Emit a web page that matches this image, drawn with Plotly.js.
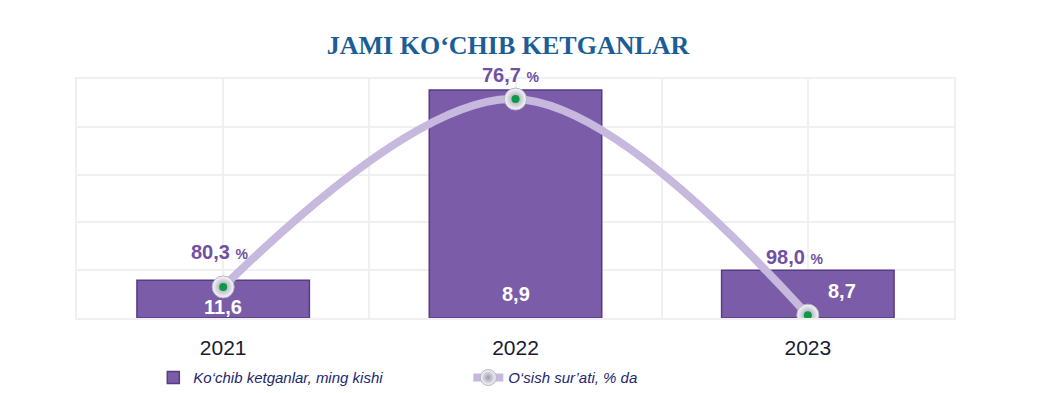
<!DOCTYPE html>
<html><head><meta charset="utf-8">
<script src="https://cdn.plot.ly/plotly-3.0.1.min.js"></script>
<style>html,body{margin:0;padding:0;background:#fff}</style>
</head><body><div id="chart" style="width:1039px;height:393px"></div>
<script>
// ---- data ----
const years = [2021, 2022, 2023];
const emigrants = [11.6, 8.9, 8.7];      // Ko‘chib ketganlar, ming kishi (printed values)
const growthRate = [80.3, 76.7, 98.0];   // O‘sish sur’ati, % da (printed values)
// bar heights and line levels as drawn in the picture (gridline units, unlabeled axis)
const barDrawn = [0.79, 4.77, 1.0];
const lineDrawn = [0.65, 4.58, 0.06];
const chartTitle = 'JAMI KO‘CHIB KETGANLAR';
const seriesNames = ['Ko‘chib ketganlar, ming kishi', 'O‘sish sur’ati, % da'];

// ---- styling ----
const fmt = v => v.toFixed(1).replace('.', ',');
const pctShift = [[-4, 35], [-5, 24], [-13, 58]];
const valShift = [[0, 11], [0, 24], [34, 27]];

const tickvals = [], ticktext = [];
years.forEach((y, i) => {
  tickvals.push(y - 0.5); ticktext.push('');
  tickvals.push(y); ticktext.push(String(y));
});
tickvals.push(years[years.length - 1] + 0.5); ticktext.push('');

const traces = [
  {
    type: 'bar', x: years, y: barDrawn, name: seriesNames[0], width: 0.59,
    marker: {color: '#7b5ca8', line: {color: '#563b86', width: 1.5}},
    hoverinfo: 'skip'
  },
  {
    type: 'scatter', mode: 'lines+markers', x: years, y: lineDrawn, name: seriesNames[1],
    line: {color: '#c6b9dd', width: 8, shape: 'spline', smoothing: 1},
    marker: {size: 22, color: '#f8f8fc', gradient: {type: 'radial', color: '#9a9aab'},
             line: {color: '#b4b4c4', width: 1}},
    hoverinfo: 'skip'
  },
  {
    type: 'scatter', mode: 'markers', x: years, y: lineDrawn, showlegend: false,
    marker: {size: 8, color: '#0c9a48'}, hoverinfo: 'skip'
  }
];

const annotations = [];
years.forEach((y, i) => {
  annotations.push({
    x: y, y: lineDrawn[i], xref: 'x', yref: 'y', showarrow: false,
    xshift: pctShift[i][0], yshift: pctShift[i][1],
    text: '<b>' + fmt(growthRate[i]) + ' <span style="font-size:14px">%</span></b>',
    font: {family: 'Liberation Sans, Arial', size: 20, color: '#7150a3'}
  });
  annotations.push({
    x: y, y: 0, xref: 'x', yref: 'y', showarrow: false,
    xshift: valShift[i][0], yshift: valShift[i][1],
    text: '<b>' + fmt(emigrants[i]) + '</b>',
    font: {family: 'Liberation Sans, Arial', size: 20, color: '#ffffff'}
  });
});

const layout = {
  width: 1039, height: 393,
  margin: {l: 77, r: 85, t: 79, b: 75, autoexpand: false},
  paper_bgcolor: '#ffffff', plot_bgcolor: '#ffffff',
  title: {
    text: '<b>' + chartTitle + '</b>',
    font: {family: 'Liberation Serif, Times New Roman', size: 26, color: '#1b5e96'},
    x: 0.489, xref: 'container', xanchor: 'center',
    y: 0.885, yref: 'container', yanchor: 'middle'
  },
  xaxis: {
    range: [years[0] - 0.5, years[years.length - 1] + 0.5],
    tickmode: 'array', tickvals: tickvals, ticktext: ticktext,
    showgrid: true, gridcolor: '#f0f0f0', gridwidth: 2,
    showline: true, mirror: true, linecolor: '#f0f0f0', linewidth: 2,
    zeroline: false, ticks: '', ticklabelstandoff: 10,
    tickfont: {family: 'Liberation Sans, Arial', size: 21, color: '#1a1a2e'},
    fixedrange: true
  },
  yaxis: {
    range: [0, 5], dtick: 1, showticklabels: false,
    showgrid: true, gridcolor: '#f0f0f0', gridwidth: 2,
    showline: true, mirror: true, linecolor: '#f0f0f0', linewidth: 2,
    zeroline: false, ticks: '', fixedrange: true
  },
  showlegend: true,
  legend: {
    orientation: 'h', x: 0.087, xanchor: 'left', y: -0.25, yanchor: 'middle',
    entrywidth: 270, entrywidthmode: 'pixels',
    font: {family: 'Liberation Sans, Arial', size: 15, color: '#1d2670', style: 'italic'},
    bgcolor: 'rgba(0,0,0,0)', traceorder: 'normal'
  },
  annotations: annotations
};

Plotly.newPlot('chart', traces, layout, {displayModeBar: false, staticPlot: true});
</script>
</body></html>
